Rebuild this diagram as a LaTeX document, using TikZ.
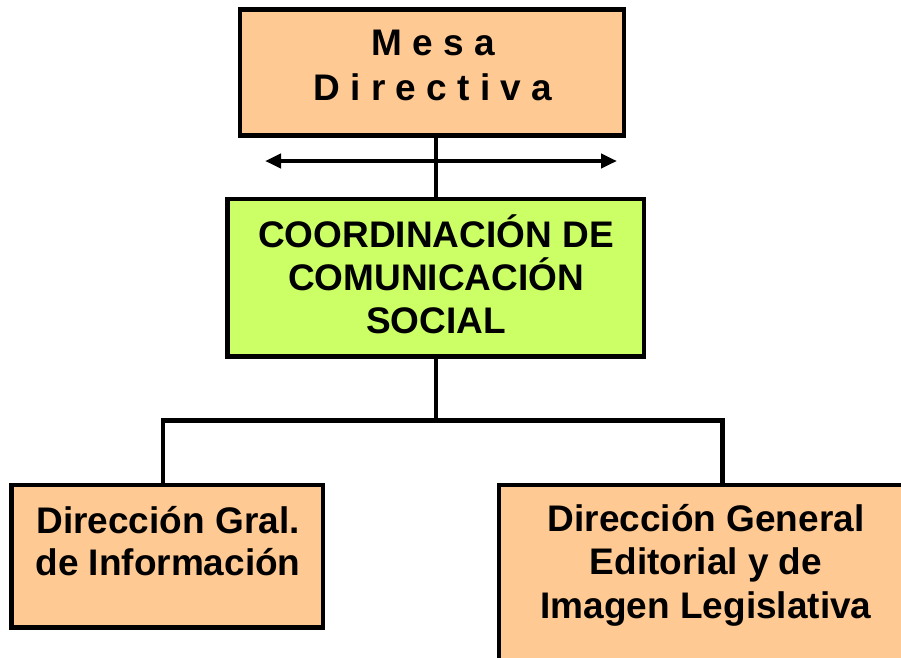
\documentclass[tikz,border=0pt]{standalone}
\usepackage{fontspec}
\setmainfont{Liberation Sans}
\usetikzlibrary{arrows.meta}
\definecolor{peach}{HTML}{FFC993}
\definecolor{limegreen}{HTML}{CCFF66}
\begin{document}
\begin{tikzpicture}[x=1pt,y=-1pt,
  box/.style={draw=black,line width=4.5pt,inner sep=0pt},
  lbl/.style={font=\bfseries,align=center,inner sep=0pt,anchor=base},
  conn/.style={line width=4.5pt},
  dblarrow/.style={line width=4pt,{Triangle[length=16pt,width=14pt]}-{Triangle[length=16pt,width=14pt]}}]
\useasboundingbox (0,0) rectangle (901,657);
\clip (0,0) rectangle (901,657);
% boxes
\node[box,fill=peach,minimum width=384pt,minimum height=126pt] (mesa) at (432,72.6) {};
\node[box,fill=limegreen,minimum width=416.5pt,minimum height=157.5pt] (coord) at (435.8,277.8) {};
\node[box,fill=peach,minimum width=311.3pt,minimum height=142.5pt] (left) at (167.3,556.2) {};
\node[box,fill=peach,minimum width=441pt,minimum height=215pt] (right) at (719.5,592.5) {};
% texts (anchored at the baseline of the last line)
\node[lbl,font=\bfseries\fontsize{37}{45}\selectfont] (tmesa) at (433,100) {M e s a\\D i r e c t i v a};
\node[lbl,font=\bfseries\fontsize{37}{43}\selectfont] (tcoord) at (436,333) {COORDINACIÓN DE\\COMUNICACIÓN\\SOCIAL};
\node[lbl,font=\bfseries\fontsize{37}{42}\selectfont] (tleft) at (168,575) {Dirección Gral.\\de Información};
\node[lbl,font=\bfseries\fontsize{37}{43.5}\selectfont] (tright) at (706,618) {Dirección General\\Editorial y de\\Imagen Legislativa};
% connectors
\draw[conn] (coord.north |- mesa.south) -- (coord.north);
\coordinate (aL) at (265,161);
\coordinate (aR) at (617,161);
\draw[dblarrow] (aL) -- (aR);
\coordinate (tl) at (163,420.7);
\coordinate (tr) at (722.5,420.7);
\draw[conn] (coord.south) -- (coord.south |- tl);
\draw[conn] (tl |- left.north) -- (tl) -- (tr) -- (tr |- right.north);
\end{tikzpicture}
\end{document}
